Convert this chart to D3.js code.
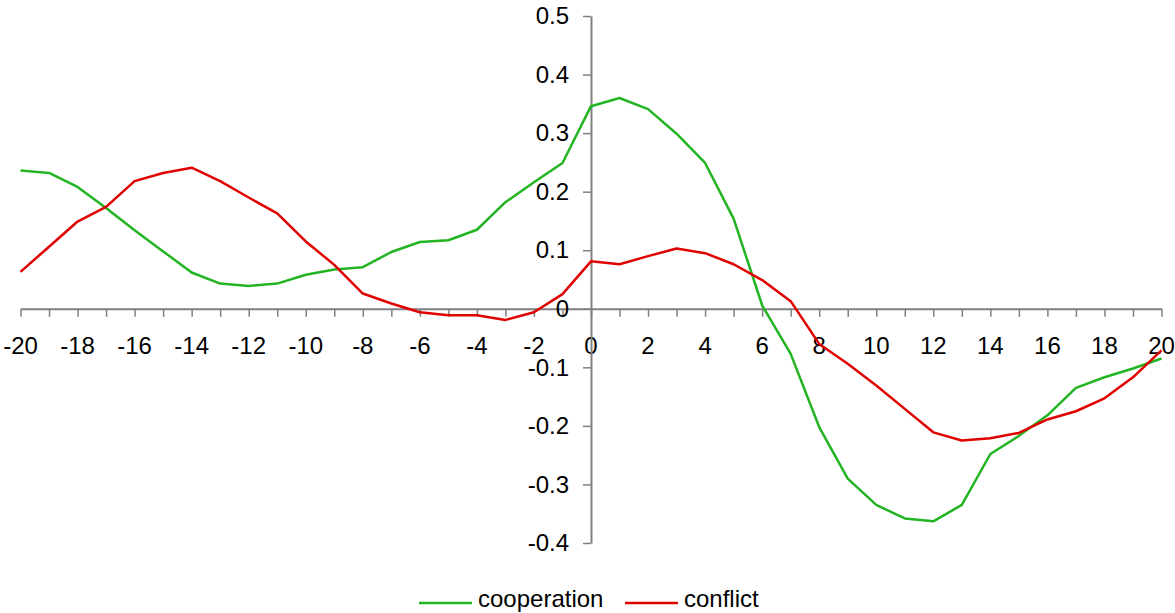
<!DOCTYPE html>
<html>
<head>
<meta charset="utf-8">
<script src="https://cdn.jsdelivr.net/npm/d3@7"></script>
<style>
  body { margin: 0; background: #fff; }
  svg { display: block; font-family: "Liberation Sans", Arial, sans-serif; }
</style>
</head>
<body>
<div id="chart"></div>
<script>
// lags from -20 to 20
const lags = d3.range(-20, 21);

const cooperation = [
  0.236, 0.232, 0.208, 0.172, 0.134, 0.098, 0.062, 0.043, 0.039, 0.043,
  0.058, 0.067, 0.071, 0.097, 0.114, 0.117, 0.135, 0.182, 0.216, 0.249,
  0.346, 0.360, 0.341, 0.299, 0.249, 0.154, 0.006, -0.077, -0.202, -0.290,
  -0.335, -0.358, -0.363, -0.335, -0.248, -0.217, -0.182, -0.135, -0.117, -0.102,
  -0.085
];

const conflict = [
  0.063, 0.106, 0.149, 0.174, 0.218, 0.232, 0.241, 0.218, 0.190, 0.163,
  0.115, 0.075, 0.026, 0.009, -0.006, -0.011, -0.011, -0.019, -0.006, 0.025,
  0.081, 0.076, 0.090, 0.103, 0.095, 0.076, 0.049, 0.013, -0.060, -0.094,
  -0.131, -0.171, -0.211, -0.225, -0.221, -0.212, -0.189, -0.175, -0.153, -0.117,
  -0.071
];

const yTicks = [-0.4, -0.3, -0.2, -0.1, 0, 0.1, 0.2, 0.3, 0.4, 0.5];
const xLabelTicks = d3.range(-20, 21, 2);

const series = [
  { name: "cooperation", values: cooperation, color: "#22b422" },
  { name: "conflict", values: conflict, color: "#e00000" }
];

const width = 1175, height = 613;

const svg = d3.select("#chart")
  .append("svg")
  .attr("width", width)
  .attr("height", height);

const x = d3.scaleLinear().domain([-20, 20]).range([20.5, 1161.5]);
const y = d3.scaleLinear().domain([-0.4, 0.5]).range([543, 16]);

const axisColor = "#808080";
// plain hyphen instead of the unicode minus
const fmtY = d => d === 0 ? "0" : d3.format(".1f")(d).replace("\u2212", "-");

// x axis (crosses at y = 0)
const xAxis = svg.append("g")
  .attr("transform", `translate(0,${y(0)})`)
  .call(d3.axisBottom(x).tickValues(lags).tickSize(8).tickSizeOuter(0).tickFormat(""));
xAxis.select(".domain").attr("stroke", axisColor).attr("stroke-width", 2);
xAxis.selectAll(".tick line").attr("stroke", axisColor).attr("stroke-width", 1.5);

svg.append("g")
  .selectAll("text")
  .data(xLabelTicks)
  .enter().append("text")
  .attr("x", d => x(d))
  .attr("y", y(0) + 45)
  .attr("text-anchor", "middle")
  .style("font-size", "24px")
  .attr("fill", "#000")
  .text(d => String(d));

// y axis (crosses at x = 0)
const yAxis = svg.append("g")
  .attr("transform", `translate(${x(0)},0)`)
  .call(d3.axisLeft(y).tickValues(yTicks).tickSize(8).tickSizeOuter(0).tickPadding(14)
    .tickFormat(fmtY));
yAxis.select(".domain").attr("stroke", axisColor).attr("stroke-width", 2);
yAxis.selectAll(".tick line").attr("stroke", axisColor).attr("stroke-width", 1.5);
yAxis.selectAll(".tick text")
  .style("font-size", "24px")
  .style("font-family", "'Liberation Sans', Arial, sans-serif")
  .attr("fill", "#000");

// lines
const line = d3.line()
  .x((d, i) => x(lags[i]))
  .y(d => y(d));

series.forEach(s => {
  svg.append("path")
    .datum(s.values)
    .attr("fill", "none")
    .attr("stroke", s.color)
    .attr("stroke-width", 2.5)
    .attr("stroke-linejoin", "round")
    .attr("d", line);
});

// legend
const legend = svg.append("g").attr("transform", "translate(419,603)");
const legendX = [0, 206];
series.forEach((s, i) => {
  const g = legend.append("g").attr("transform", `translate(${legendX[i]},0)`);
  g.append("line").attr("x1", 0).attr("x2", 53).attr("y1", 0).attr("y2", 0)
    .attr("stroke", s.color).attr("stroke-width", 2.5);
  g.append("text").attr("x", 59).attr("y", 4)
    .style("font-size", "24px").attr("fill", "#000").text(s.name);
});
</script>
</body>
</html>
